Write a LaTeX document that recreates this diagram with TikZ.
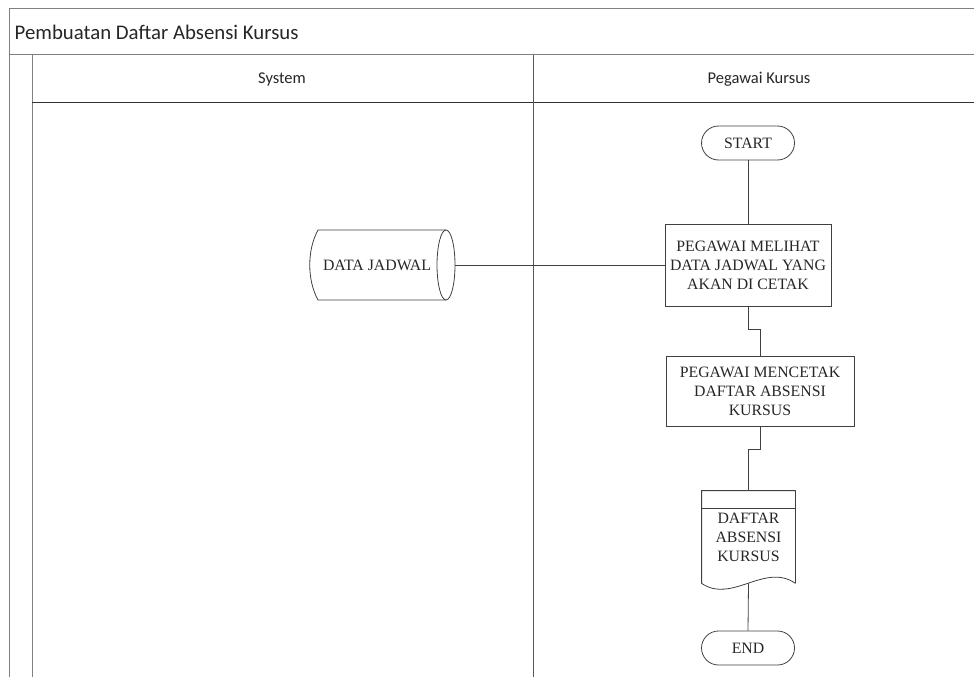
\documentclass[tikz,border=0pt]{standalone}
\usepackage{fontspec}
\setmainfont{Liberation Serif}
\newfontfamily\lanefont{Carlito}
\usetikzlibrary{positioning}

\begin{document}
\begin{tikzpicture}[x=1pt, y=-1pt, line width=0.8pt,
    every node/.style={font=\fontsize{15.8}{19}\selectfont, align=center, text=black!85},
    terminal/.style={draw=black!75, rounded corners=17pt, minimum width=93pt, minimum height=34pt, inner sep=0pt},
    process/.style={draw=black!75, rectangle, inner sep=2pt},
    lane/.style={draw=black!50, line width=1pt},
    flow/.style={draw=black!75}]
  \useasboundingbox (0,0) rectangle (974,677);
  % pool and lanes
  \draw [lane] (974,9) -- (9,9) -- (9,677);
  \draw [lane] (9,55) -- (974,55);
  \draw [lane] (32,55) -- (32,677);
  \draw [draw=black!80, line width=1pt] (32,102) -- (974,102);
  \draw [lane, draw=black!65] (533,55) -- (533,677);
  \node [anchor=west, font=\lanefont\fontsize{20.8}{22}\selectfont] (pool) at (11,32) {Pembuatan Daftar Absensi Kursus};
  \node [font=\lanefont\fontsize{16.5}{18}\selectfont] (sys) at (282,79) {System};
  \node [font=\lanefont\fontsize{16.5}{18}\selectfont] (peg) at (759,79) {Pegawai Kursus};
  % flow
  \node [terminal] (start) at (748,143) {START};
  \node [process, minimum width=166pt, minimum height=82pt] (lihat) at (748,265) {PEGAWAI MELIHAT\\DATA JADWAL YANG\\AKAN DI CETAK};
  \node [process, minimum width=188pt, minimum height=70pt] (cetak) at (760,391) {PEGAWAI MENCETAK\\DAFTAR ABSENSI\\KURSUS};
  \node [minimum width=93pt, minimum height=92pt, inner sep=0pt] (daftar) at (748.5,537) {DAFTAR\\ABSENSI\\KURSUS};
  \node [terminal] (end) at (748,648) {END};
  \node [minimum width=144pt, minimum height=70pt, inner sep=0pt] (jadwal) at (383,265) {DATA JADWAL\kern12pt};
  % stored data
  \draw [flow] (446,230) -- (318,230) .. controls (307,250) and (307,280) .. (318,300) -- (446,300);
  \draw [flow] (446,265) ellipse [x radius=9pt, y radius=35pt];
  % document
  \draw [flow] (daftar.south east) -- (daftar.north east) -- (daftar.north west) -- (daftar.south west)
    .. controls (732,604) and (765,562) .. (daftar.south east);
  \draw [flow] ([yshift=-18pt]daftar.north west) -- ([yshift=-18pt]daftar.north east);
  % connectors
  \draw [flow] (start) -- (lihat);
  \draw [flow] (jadwal.east) -- (lihat.west);
  \draw [flow] (lihat.south) -- ++(0,23) -| (cetak.north);
  \draw [flow] (cetak.south) -- ++(0,23) -| (daftar.north);
  \draw [flow] (daftar.south) -- (end.north);
\end{tikzpicture}
\end{document}
